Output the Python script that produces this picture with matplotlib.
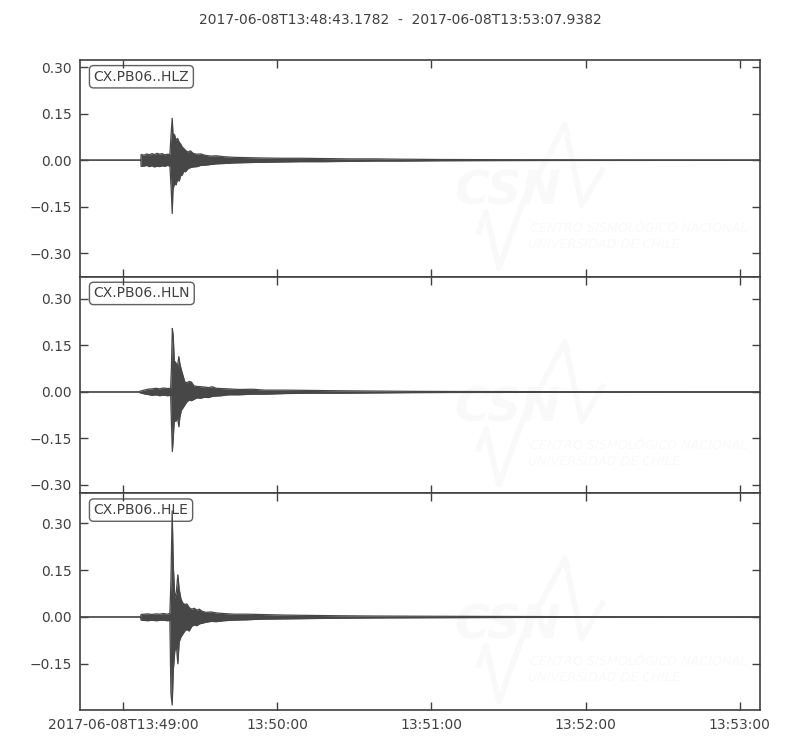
import numpy as np
import matplotlib
matplotlib.use("Agg")
import matplotlib.pyplot as plt
from matplotlib.lines import Line2D

# ---------------- data ----------------
title = "2017-06-08T13:48:43.1782  -  2017-06-08T13:53:07.9382"
duration = 264.76  # seconds from 13:48:43.1782
channels = ["CX.PB06..HLZ", "CX.PB06..HLN", "CX.PB06..HLE"]

# envelope of each trace: time (s from start), upper, lower amplitude
z_t = [0, 23.7, 23.8, 25.0, 26.0, 27.0, 28.0, 29.0, 30.0, 31.0, 32.0, 33.0, 34.0, 35.0,
       35.5, 35.9, 36.2, 36.8, 37.4, 38.0, 38.6, 39.2, 39.8, 40.4, 41.0, 42.0, 43.0, 44.0,
       45.5, 47.0, 49.0, 51.0, 53.0, 56.0, 60.0, 65.0, 70.0, 78.0, 86.0, 95.0, 105.0,
       115.0, 125.0, 140.0, 160.0, 200.0, 264.76]
z_up = [0, 0, 0.018, 0.016, 0.020, 0.017, 0.021, 0.018, 0.022, 0.019, 0.021, 0.017, 0.019, 0.018,
        0.088, 0.135, 0.085, 0.082, 0.065, 0.070, 0.058, 0.052, 0.042, 0.038, 0.032, 0.026, 0.030, 0.022,
        0.019, 0.020, 0.015, 0.013, 0.014, 0.011, 0.009, 0.008, 0.007, 0.006, 0.006, 0.005, 0.004,
        0.004, 0.003, 0.002, 0.0015, 0.001, 0.0008]
z_lo = [0, 0, -0.020, -0.019, -0.017, -0.021, -0.018, -0.022, -0.019, -0.021, -0.018, -0.020, -0.017, -0.019,
        -0.092, -0.172, -0.095, -0.075, -0.080, -0.060, -0.068, -0.050, -0.048, -0.035, -0.038, -0.028, -0.024, -0.022,
        -0.021, -0.017, -0.016, -0.014, -0.012, -0.011, -0.009, -0.008, -0.007, -0.006, -0.005, -0.005, -0.004,
        -0.003, -0.003, -0.002, -0.0015, -0.001, -0.0008]

n_t = [0, 23.0, 23.5, 25.0, 26.5, 28.0, 29.5, 31.0, 32.5, 34.0, 35.3, 35.6, 35.95, 36.3, 36.7,
       37.3, 37.9, 38.5, 38.9, 39.5, 40.2, 40.8, 41.6, 42.5, 43.4, 44.3, 45.5, 47.0, 48.5, 50.0,
       51.5, 53.0, 55.0, 58.0, 62.0, 67.0, 72.0, 80.0, 90.0, 100.0, 115.0, 130.0, 150.0, 190.0, 264.76]
n_up = [0, 0, 0.003, 0.006, 0.009, 0.010, 0.012, 0.010, 0.013, 0.011, 0.012, 0.080, 0.205, 0.180, 0.100,
        0.095, 0.080, 0.114, 0.090, 0.070, 0.050, 0.033, 0.030, 0.034, 0.032, 0.020, 0.018, 0.017, 0.016, 0.014,
        0.017, 0.012, 0.011, 0.010, 0.008, 0.009, 0.006, 0.006, 0.005, 0.004, 0.003, 0.002, 0.0015, 0.001, 0.0008]
n_lo = [0, 0, -0.003, -0.006, -0.008, -0.011, -0.009, -0.012, -0.010, -0.012, -0.011, -0.100, -0.192, -0.150, -0.090,
        -0.095, -0.080, -0.112, -0.080, -0.058, -0.050, -0.042, -0.032, -0.026, -0.028, -0.024, -0.019, -0.020, -0.017, -0.018,
        -0.014, -0.013, -0.012, -0.009, -0.009, -0.007, -0.007, -0.005, -0.004, -0.004, -0.003, -0.002, -0.0015, -0.001, -0.0008]

e_t = [0, 23.5, 23.8, 25.0, 26.5, 28.0, 29.5, 31.0, 32.5, 34.0, 35.0, 35.4, 35.9, 36.3, 36.9,
       37.5, 38.1, 38.6, 39.3, 40.0, 40.8, 41.6, 42.5, 43.5, 44.5, 45.5, 46.5, 47.5, 49.0, 51.0,
       53.0, 56.0, 60.0, 65.0, 70.0, 80.0, 90.0, 100.0, 115.0, 130.0, 150.0, 190.0, 264.76]
e_up = [0, 0, 0.008, 0.009, 0.010, 0.008, 0.010, 0.009, 0.011, 0.009, 0.012, 0.116, 0.340, 0.171, 0.060,
        0.080, 0.135, 0.090, 0.058, 0.045, 0.040, 0.042, 0.030, 0.025, 0.028, 0.022, 0.025, 0.018, 0.015, 0.016,
        0.013, 0.011, 0.009, 0.009, 0.008, 0.006, 0.005, 0.004, 0.003, 0.0025, 0.002, 0.001, 0.0008]
e_lo = [0, 0, -0.010, -0.011, -0.012, -0.010, -0.012, -0.011, -0.010, -0.012, -0.011, -0.244, -0.282, -0.174, -0.110,
        -0.090, -0.150, -0.080, -0.064, -0.055, -0.045, -0.040, -0.045, -0.030, -0.025, -0.028, -0.022, -0.020, -0.017, -0.014,
        -0.015, -0.012, -0.010, -0.009, -0.007, -0.006, -0.005, -0.004, -0.003, -0.0025, -0.002, -0.001, -0.0008]

traces = [(z_t, z_up, z_lo), (n_t, n_up, n_lo), (e_t, e_up, e_lo)]
ylims = [(-0.376, 0.323), (-0.327, 0.372), (-0.298, 0.396)]
yticks_list = [[-0.30, -0.15, 0.0, 0.15, 0.30], [-0.30, -0.15, 0.0, 0.15, 0.30], [-0.15, 0.0, 0.15, 0.30]]

tick_seconds = [16.8218, 76.8218, 136.8218, 196.8218, 256.8218]
tick_labels = ["2017-06-08T13:49:00", "13:50:00", "13:51:00", "13:52:00", "13:53:00"]

# ---------------- style ----------------
dark = "#404040"
wave = "#474747"
wm = "#f9f9f9"
plt.rcParams["font.family"] = ["DejaVu Sans"]
plt.rcParams["font.size"] = 10

fig = plt.figure(figsize=(8, 7.5), dpi=100)
left, right, top, bottom = 0.1, 0.95, 0.92, 0.0533
h = (top - bottom) / 3

# watermark geometry (axes fraction)
zig_x = [0.586, 0.597, 0.616, 0.650, 0.713, 0.738, 0.768]
zig_y = [0.206, 0.298, 0.040, 0.331, 0.700, 0.331, 0.493]


def fmt(v):
    s = "%.2f" % abs(v)
    return ("\u2212" + s) if v < 0 else s


for i, (name, (t, up, lo)) in enumerate(zip(channels, traces)):
    ax = fig.add_axes([left, top - (i + 1) * h, right - left, h])
    # faint watermark
    ax.text(0.551, 0.331, "CSN", transform=ax.transAxes, fontsize=34, fontweight="bold",
            fontstyle="italic", color=wm, zorder=0, ha="left", va="baseline")
    ax.add_line(Line2D(zig_x, zig_y, transform=ax.transAxes, color=wm, lw=4, zorder=0))
    ax.text(0.662, 0.206, "CENTRO SISMOLÓGICO NACIONAL", transform=ax.transAxes, fontsize=9.2,
            fontstyle="italic", color=wm, zorder=0, ha="left", va="baseline")
    ax.text(0.659, 0.132, "UNIVERSIDAD DE CHILE", transform=ax.transAxes, fontsize=9.2,
            fontstyle="italic", color=wm, zorder=0, ha="left", va="baseline")

    ax.fill_between(t, lo, up, color=wave, lw=0, zorder=2)
    ax.plot(t, up, color=wave, lw=0.9, zorder=2)
    ax.plot(t, lo, color=wave, lw=0.9, zorder=2)

    ax.set_xlim(0, duration)
    ax.set_ylim(*ylims[i])
    ax.set_yticks(yticks_list[i])
    ax.set_yticklabels([fmt(v) for v in yticks_list[i]])
    ax.set_xticks(tick_seconds)
    if i == 2:
        ax.set_xticklabels(tick_labels)
    else:
        ax.set_xticklabels([])
    ax.tick_params(direction="in", length=6, width=1, colors=dark, labelcolor=dark,
                   top=True, right=True, labelsize=10, pad=6)
    for sp in ax.spines.values():
        sp.set_color(dark)
        sp.set_linewidth(1.2)
    ax.text(0.02, 0.955, name, transform=ax.transAxes, ha="left", va="top", fontsize=10,
            color=dark, zorder=1,
            bbox=dict(boxstyle="round,pad=0.3", fc="white", ec="#606060", lw=1))

fig.text(0.5, 0.973, title, ha="center", va="center", fontsize=10, color=dark)
fig.savefig("out.png", dpi=100)
